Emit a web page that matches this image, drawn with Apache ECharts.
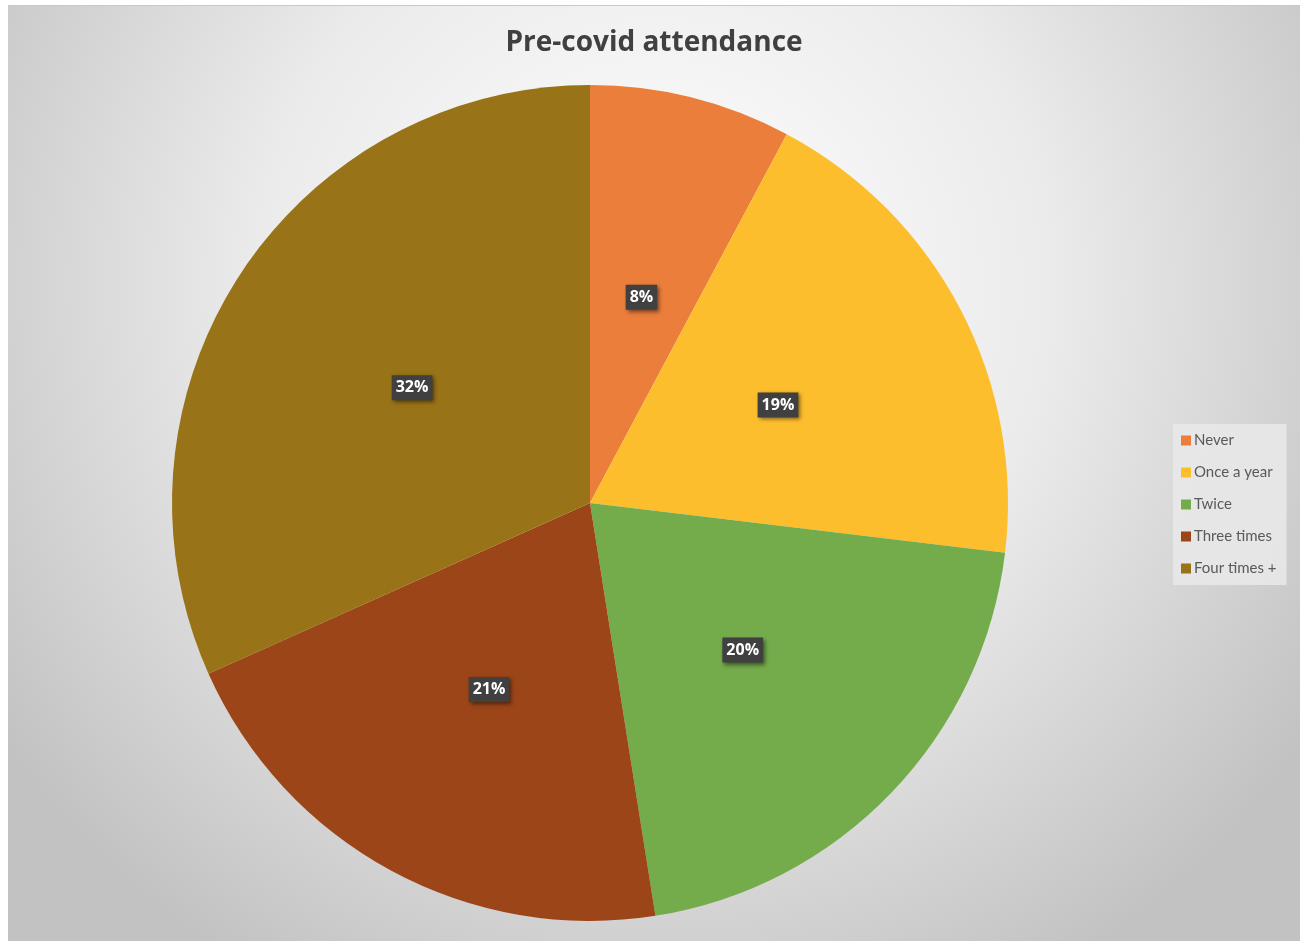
<!DOCTYPE html>
<html>
<head>
<meta charset="utf-8">
<script src="https://cdn.jsdelivr.net/npm/echarts@6/dist/echarts.min.js"></script>
<style>
html,body{margin:0;padding:0;background:#fff;}
#c{position:absolute;left:8px;top:5px;width:1292px;height:936px;border-top:1px solid #c8c8c8;box-sizing:border-box;}
</style>
</head>
<body>
<div id="c"></div>
<script>
const categories = ['Never', 'Once a year', 'Twice', 'Three times', 'Four times +'];
const values = [7.8, 19.1, 20.6, 20.8, 31.7];
const colors = ['#EB7E3B', '#FDBE2E', '#74AC4C', '#9C4518', '#987317'];

const chart = echarts.init(document.getElementById('c'));
chart.setOption({
  backgroundColor: {
    type: 'radial', x: 0.5, y: 0.3, r: 0.85,
    colorStops: [
      {offset: 0, color: '#ffffff'},
      {offset: 0.5, color: '#ebebeb'},
      {offset: 1, color: '#c2c2c2'}
    ]
  },
  animation: false,
  title: {
    text: 'Pre-covid attendance',
    left: 641, top: 18, textAlign: 'center',
    textStyle: {fontFamily: 'Open Sans', fontWeight: 'bold', fontSize: 28, color: '#404040'}
  },
  legend: {
    orient: 'vertical',
    left: 1165, top: 418,
    data: categories,
    itemWidth: 10, itemHeight: 10, itemGap: 17,
    icon: 'rect',
    backgroundColor: 'rgba(232,232,232,0.9)',
    padding: [9, 10, 9, 8],
    textStyle: {fontFamily: 'Lato', fontSize: 15, color: '#595959', padding: [0, 0, 0, -2]}
  },
  series: [{
    type: 'pie',
    center: [582, 497],
    radius: 418,
    startAngle: 90,
    clockwise: true,
    percentPrecision: 0,
    itemStyle: {borderWidth: 0},
    label: {
      position: 'inside',
      formatter: '{d}%',
      color: '#ffffff',
      fontFamily: 'Open Sans',
      fontWeight: 'bold',
      fontSize: 16,
      backgroundColor: '#404040',
      padding: [5, 4, 4, 4],
      shadowColor: 'rgba(0,0,0,0.5)',
      shadowBlur: 4,
      shadowOffsetX: 2,
      shadowOffsetY: 2
    },
    labelLine: {show: false},
    data: categories.map((n, i) => ({name: n, value: values[i], itemStyle: {color: colors[i]}}))
  }]
});
</script>
</body>
</html>
